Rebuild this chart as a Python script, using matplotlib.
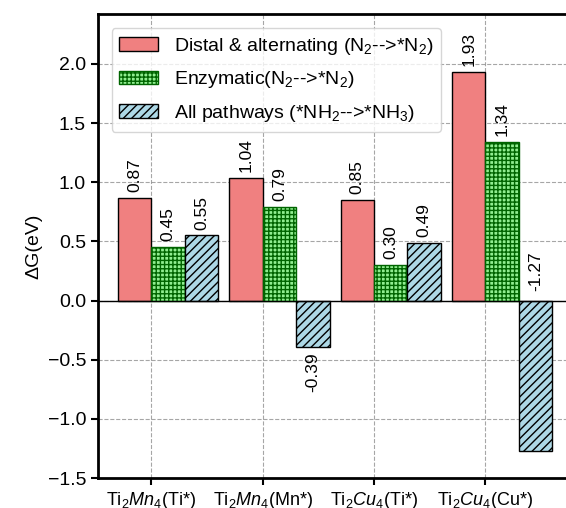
import numpy as np
import matplotlib
matplotlib.use('Agg')
import matplotlib.pyplot as plt

plt.rcParams['font.family'] = ['Liberation Sans', 'DejaVu Sans']
plt.rcParams['mathtext.fontset'] = 'custom'
plt.rcParams['mathtext.rm'] = 'Liberation Sans'
plt.rcParams['mathtext.it'] = 'Liberation Sans:italic'
plt.rcParams['hatch.linewidth'] = 1.0

# free energy steps per site (eV)
sites = ['Ti$_2$$Mn_4$(Ti*)', 'Ti$_2$$Mn_4$(Mn*)', 'Ti$_2$$Cu_4$(Ti*)', 'Ti$_2$$Cu_4$(Cu*)']
distal_alt = [0.87, 1.04, 0.85, 1.93]
enzymatic = [0.45, 0.79, 0.30, 1.34]
all_paths = [0.55, -0.39, 0.49, -1.27]

labels = ['Distal & alternating (N$_2$-->*N$_2$)',
          'Enzymatic(N$_2$-->*N$_2$)',
          'All pathways (*NH$_2$-->*NH$_3$)']

width = 0.3
x = np.arange(len(sites))

fig = plt.figure(figsize=(5.66, 5.08), dpi=100)
ax = fig.add_axes([0.173, 0.059, 0.84, 0.913])

b1 = ax.bar(x - width / 2, distal_alt, width, color='lightcoral', edgecolor='black',
            linewidth=1, label=labels[0], zorder=3)
b2 = ax.bar(x + width / 2, enzymatic, width, color='lightgreen', edgecolor='darkgreen',
            hatch='++++', linewidth=1, label=labels[1], zorder=3)
b3 = ax.bar(x + 3 * width / 2, all_paths, width, color='lightblue', edgecolor='black',
            hatch='////', linewidth=1, label=labels[2], zorder=3)

for bars, vals in [(b1, distal_alt), (b2, enzymatic), (b3, all_paths)]:
    for bar, v in zip(bars, vals):
        cx = bar.get_x() + bar.get_width() / 2
        if v >= 0:
            ax.text(cx, v + 0.05, '%.2f' % v, rotation=90, ha='center', va='bottom', fontsize=12.5)
        elif v < -1.0:
            # no room below the long bar, put the value above the baseline
            ax.text(cx, 0.08, '%.2f' % v, rotation=90, ha='center', va='bottom', fontsize=12.5)
        else:
            ax.text(cx, v - 0.05, '%.2f' % v, rotation=90, ha='center', va='top', fontsize=12.5)

ax.axhline(0, color='black', linewidth=1, zorder=4)
ax.set_xlim(-0.48, 3.79)
ax.set_ylim(-1.5, 2.42)
ax.set_yticks(np.arange(-1.5, 2.01, 0.5))
ax.set_xticks(x)
ax.set_xticklabels(sites, fontsize=13)
ax.tick_params(axis='y', labelsize=14, width=1.5, length=5)
ax.tick_params(axis='x', width=1.5, length=5)
ax.set_ylabel('ΔG(eV)', fontsize=14)
ax.grid(True, linestyle='--', color='grey', alpha=0.7, linewidth=0.8, zorder=0)
for s in ax.spines.values():
    s.set_linewidth(2)

ax.legend(loc='upper left', fontsize=14, handlelength=2.0, borderaxespad=0.7,
          labelspacing=0.65)

fig.savefig('out.png', dpi=100)
